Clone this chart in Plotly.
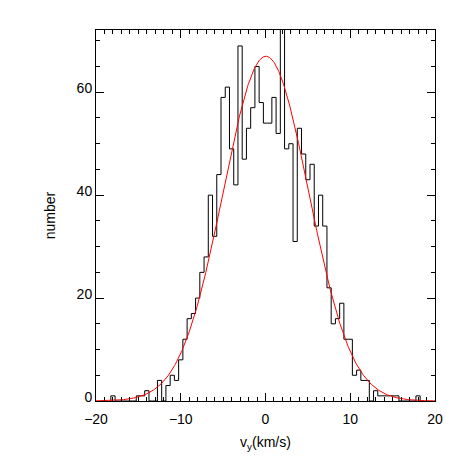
import numpy as np
import plotly.graph_objects as go

# histogram of v_y, bin width 0.5 km/s, bins centred on -18 ... 18
bin_width = 0.5
bin_centers = np.arange(-18.0, 18.0 + 0.25, bin_width)
counts = [
    1, 0, 0, 0, 0, 0, 1, 1, 2, 0,          # -18.0 .. -13.5
    0, 4, 0, 3, 5, 4, 8, 12, 16, 17,       # -13.0 .. -8.5
    20, 25, 28, 40, 32, 44, 59, 61, 49, 42,  # -8.0 .. -3.5
    69, 47, 53, 57, 65, 58, 54, 54, 59, 52,  # -3.0 .. 1.5
    75, 49, 50, 31, 53, 48, 43, 46, 34, 40,  # 2.0 .. 6.5
    34, 22, 15, 16, 19, 12, 12, 5, 6, 4,     # 7.0 .. 11.5
    4, 0, 2, 1, 1, 1, 1, 1, 0, 0,            # 12.0 .. 16.5
    0, 0, 1,                                  # 17.0 .. 18.0
]

# gaussian fit
fit_amp = 67.0
fit_mu = 0.05
fit_sigma = 5.05

x_ticks = [-20, -10, 0, 10, 20]
y_ticks = [0, 20, 40, 60]

edges = list(bin_centers - bin_width / 2) + [bin_centers[-1] + bin_width / 2]
step_x = [edges[0]] + edges + [edges[-1]]
step_y = [0] + list(counts) + [counts[-1], 0]

xf = np.linspace(-20, 20, 600)
yf = fit_amp * np.exp(-(xf - fit_mu) ** 2 / (2 * fit_sigma ** 2))

fig = go.Figure()
fig.add_trace(go.Scatter(x=step_x, y=step_y, mode="lines", line_shape="hv",
                         line=dict(color="black", width=1), showlegend=False))
fig.add_trace(go.Scatter(x=xf, y=yf, mode="lines",
                         line=dict(color="red", width=1), showlegend=False))

axis_common = dict(
    showgrid=False, zeroline=False, showline=True, linecolor="black", linewidth=1,
    mirror="allticks", ticks="inside", tickcolor="black", tickwidth=1,
    tickfont=dict(family="Liberation Sans", size=14, color="black"),
)

fig.update_xaxes(range=[-20, 20], tickvals=x_ticks, ticklen=8, ticklabelstandoff=5,
                 minor=dict(dtick=1, ticks="inside", ticklen=4, tickcolor="black"),
                 title=dict(text="v<sub>y</sub>(km/s)", standoff=11,
                            font=dict(family="Liberation Sans", size=14, color="black")),
                 **axis_common)
fig.update_yaxes(range=[0, 72.1], tickvals=y_ticks, ticklen=8, ticklabelshift=-4,
                 minor=dict(dtick=5, ticks="inside", ticklen=4, tickcolor="black"),
                 title=dict(text="number", standoff=17,
                            font=dict(family="Liberation Sans", size=14, color="black")),
                 **axis_common)

# page body adds an 8 px margin, so the figure is 455 px and shifted
fig.update_layout(
    width=455, height=455,
    margin=dict(l=88, r=28, t=22, b=62, autoexpand=False),
    paper_bgcolor="white", plot_bgcolor="white",
)

fig.write_html("out.html")
